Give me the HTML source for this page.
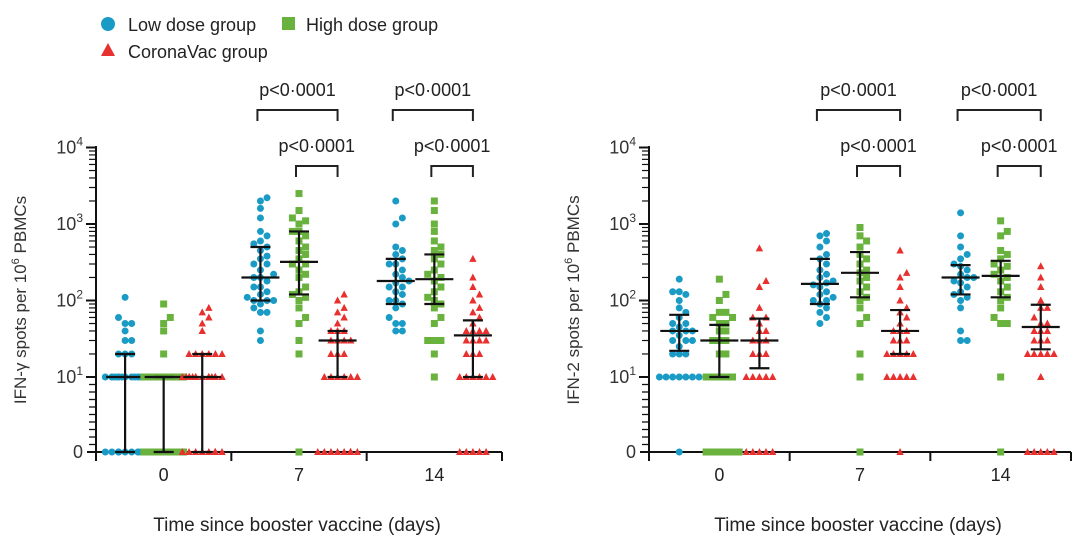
<!DOCTYPE html>
<html><head><meta charset="utf-8"><style>
html,body{margin:0;padding:0;background:#fff;width:1080px;height:556px;overflow:hidden}
svg{font-family:"Liberation Sans",sans-serif}
</style></head><body>
<svg id="c" width="1080" height="556" xmlns="http://www.w3.org/2000/svg">
<g>
<circle cx="108" cy="24" r="7" fill="#1a9bc6"/>
<text x="128" y="31" font-size="18" fill="#222">Low dose group</text>
<rect x="282" y="17" width="13" height="13" fill="#6ab23e"/>
<text x="306" y="31" font-size="18" fill="#222">High dose group</text>
<polygon points="108,43 115,56 101,56" fill="#e8302e"/>
<text x="128" y="58" font-size="18" fill="#222">CoronaVac group</text>
</g>
</svg>
<script>
const days=["0","7","14"];
const seriesNames=["low","high","corona"];
// IFN-gamma panel
const g_low_d0=[0,0,0,0,0,0,0,0,0,0,10,10,10,10,10,10,10,10,10,10,10,10,10,10,10,20,20,20,30,30,40,50,50,60,110];
const g_high_d0=[0,0,0,0,0,0,0,0,0,0,10,10,10,10,10,10,10,10,10,10,10,10,10,10,10,20,40,50,60,90];
const g_cor_d0=[0,0,0,0,0,0,0,0,10,10,10,10,10,10,10,10,10,10,10,10,10,10,20,20,20,20,20,20,40,50,60,70,80];
const g_low_d7=[30,40,70,70,80,90,100,100,100,110,120,130,150,150,180,200,200,220,250,300,300,350,380,450,500,550,600,700,800,1200,1600,2000,2200];
const g_high_d7=[0,20,30,50,60,80,100,110,120,130,150,200,220,250,300,300,350,400,450,500,600,700,800,800,1000,1100,1200,1500,2500];
const g_cor_d7=[0,0,0,0,0,0,0,0,10,10,10,10,10,10,20,20,20,30,30,30,30,40,40,40,50,60,70,80,100,120];
const g_low_d14=[40,40,50,50,60,80,90,100,100,120,130,150,150,170,180,200,220,250,300,300,350,400,450,500,1000,1200,2000];
const g_high_d14=[10,20,30,30,30,50,60,80,90,100,110,130,150,180,200,220,250,300,350,400,450,500,600,800,1000,1500,2000];
const g_cor_d14=[0,0,0,0,0,10,10,10,10,10,10,20,20,20,30,30,30,30,40,40,40,40,50,60,70,80,100,120,150,200,350];
const g_med=[[10,10,10],[200,320,30],[180,190,35]];
const g_q1=[[0,0,0],[100,120,10],[90,90,10]];
const g_q3=[[20,10,20],[500,800,40],[350,400,55]];
// IFN-2 panel
const t_low_d0=[0,10,10,10,10,10,10,10,20,20,20,25,30,30,30,35,40,40,40,45,50,50,60,70,80,100,120,130,130,190];
const t_high_d0=[0,0,0,0,0,0,10,10,10,10,10,20,20,30,30,30,40,40,50,50,60,60,70,70,100,120,190];
const t_cor_d0=[0,0,0,0,0,10,10,10,10,10,20,20,20,30,30,30,40,40,50,60,60,80,150,180,480];
const t_low_d7=[50,60,70,80,90,100,100,110,120,130,150,160,170,180,200,220,250,300,350,400,500,600,700,750];
const t_high_d7=[0,10,20,50,60,80,100,110,130,150,180,200,230,250,300,350,400,500,600,700,900];
const t_cor_d7=[0,10,10,10,10,10,20,20,20,20,20,30,30,30,40,40,40,50,60,70,80,100,150,200,230,450];
const t_low_d14=[30,30,40,80,100,110,120,130,150,170,180,200,200,220,250,280,300,350,400,500,700,1400];
const t_high_d14=[0,10,50,50,60,80,100,110,130,150,180,200,220,250,280,300,350,400,450,700,800,1100];
const t_cor_d14=[0,0,0,0,0,10,20,20,20,20,20,30,30,30,40,40,40,50,50,60,80,80,100,150,200,280];
const t_med=[[40,30,30],[165,230,40],[200,210,45]];
const t_q1=[[22,10,13],[90,110,20],[120,110,23]];
const t_q3=[[65,48,58],[350,430,75],[290,330,88]];
const pLabels=["p<0·0001","p<0·0001"];

const svg=document.getElementById('c');
const NS="http://www.w3.org/2000/svg";
function mk(tag,attrs,parent){const e=document.createElementNS(NS,tag);for(const k in attrs)e.setAttribute(k,attrs[k]);(parent||svg).appendChild(e);return e;}
const colors=["#1a9bc6","#6ab23e","#e8302e"];

function panel(px,pw,prefix,title,data,med,q1,q3){
  const g=mk('g',{});
  
  
  const y0=452,y10=377,dec=76.5;
  const Y=v=>v<=0?y0:(v<10?y0-(v/10)*(y0-y10):y10-Math.log10(v/10)*dec);
  const gw=pw/3;
  const X=(d,s)=>px+gw*d+gw*[0.215,0.5,0.785][s];
  const ya=mk('line',{x1:px,y1:146,x2:px,y2:y0,stroke:'#111','stroke-width':2},g);
  
  const xa=mk('line',{x1:px-9,y1:y0,x2:px+pw,y2:y0,stroke:'#111','stroke-width':2},g);
  
  for(let d=1;d<=3;d++){mk('line',{x1:px+gw*d,y1:y0,x2:px+gw*d,y2:y0+9,stroke:'#111','stroke-width':2},g);}
  mk('line',{x1:px,y1:y0,x2:px,y2:y0+9,stroke:'#111','stroke-width':2},g);
  for(let i=1;i<10;i++)mk('line',{x1:px-7,y1:Y(i),x2:px,y2:Y(i),stroke:'#111','stroke-width':1.3},g);
  for(let e=1;e<=4;e++){
    const v=Math.pow(10,e);
    mk('line',{x1:px-10,y1:Y(v),x2:px,y2:Y(v),stroke:'#111','stroke-width':2},g);
    if(e<4)for(let m=2;m<10;m++)mk('line',{x1:px-7,y1:Y(v*m),x2:px,y2:Y(v*m),stroke:'#111','stroke-width':1.2},g);
    const t=mk('text',{x:px-13,y:Y(v)+6,'font-size':18,fill:'#333','text-anchor':'end'},g);
    
    t.innerHTML='10<tspan dy="-8" font-size="12">'+e+'</tspan>';
  }
  const z=mk('text',{x:px-13,y:y0+6,'font-size':18,fill:'#333','text-anchor':'end'},g);
  z.textContent='0';
  days.forEach((d,i)=>{const t=mk('text',{x:px+gw*(i+0.5),y:481,'font-size':18,fill:'#222','text-anchor':'middle'},g);
    t.textContent=d;});
  const xt=mk('text',{x:px+pw/2-2,y:531,'font-size':19,fill:'#222','text-anchor':'middle'},g);
  
  xt.textContent='Time since booster vaccine (days)';
  const yt=mk('text',{x:0,y:0,'font-size':17,fill:'#333','text-anchor':'middle',transform:`translate(${px-70},300) rotate(-90)`},g);
  
  yt.innerHTML=title+' spots per 10<tspan dy="-7" font-size="11">6</tspan><tspan dy="7"> PBMCs</tspan>';
  for(let d=0;d<3;d++)for(let s=0;s<3;s++){
    const vals=data[d][s];const cx=X(d,s);const placed=[];
    vals.forEach((v,i)=>{
      const y=Y(v);let off=null;
      for(let k=0;k<14;k++){const o=(k%2?1:-1)*Math.ceil(k/2)*3.3;
        if(!placed.some(p=>Math.abs(p[0]-o)<6&&Math.abs(p[1]-y)<7)){off=o;break;}}
      if(off===null)off=((i*7)%13-6)*3.2;
      placed.push([off,y]);const x=cx+off;let el;
      if(s===0)el=mk('circle',{cx:x,cy:y,r:3.5,fill:colors[0]},g);
      else if(s===1)el=mk('rect',{x:x-3.5,y:y-3.5,width:7,height:7,fill:colors[1]},g);
      else el=mk('polygon',{points:`${x},${y-4} ${x+3.7},${y+3} ${x-3.7},${y+3}`,fill:colors[2]},g);
      
      
    });
    const eg=mk('g',{stroke:'#111','stroke-width':2.2},g);
    
    
    mk('line',{x1:cx,y1:Y(q1[d][s]),x2:cx,y2:Y(q3[d][s])},eg);
    mk('line',{x1:cx-10,y1:Y(q1[d][s]),x2:cx+10,y2:Y(q1[d][s])},eg);
    mk('line',{x1:cx-10,y1:Y(q3[d][s]),x2:cx+10,y2:Y(q3[d][s])},eg);
    mk('line',{x1:cx-19,y1:Y(med[d][s]),x2:cx+19,y2:Y(med[d][s])},eg);
  }
  [1,2].forEach(d=>{
    [[0,110,90],[1,166,146]].forEach(([s,by,ty],j)=>{
      const x1=X(d,s)-3,x2=X(d,2);
      const b=mk('path',{d:`M${x1},${by+11}V${by}H${x2}V${by+11}`,fill:'none',stroke:'#222','stroke-width':2},g);
      
      const t=mk('text',{x:(x1+x2)/2,y:ty+6,'font-size':18,fill:'#222','text-anchor':'middle'},g);
      
      t.textContent=pLabels[j];
    });
  });
}
panel(96,406,'ifn-gamma','IFN-γ',
 [[g_low_d0,g_high_d0,g_cor_d0],[g_low_d7,g_high_d7,g_cor_d7],[g_low_d14,g_high_d14,g_cor_d14]],g_med,g_q1,g_q3);
panel(649,422,'ifn-2','IFN-2',
 [[t_low_d0,t_high_d0,t_cor_d0],[t_low_d7,t_high_d7,t_cor_d7],[t_low_d14,t_high_d14,t_cor_d14]],t_med,t_q1,t_q3);
</script>
</body></html>
